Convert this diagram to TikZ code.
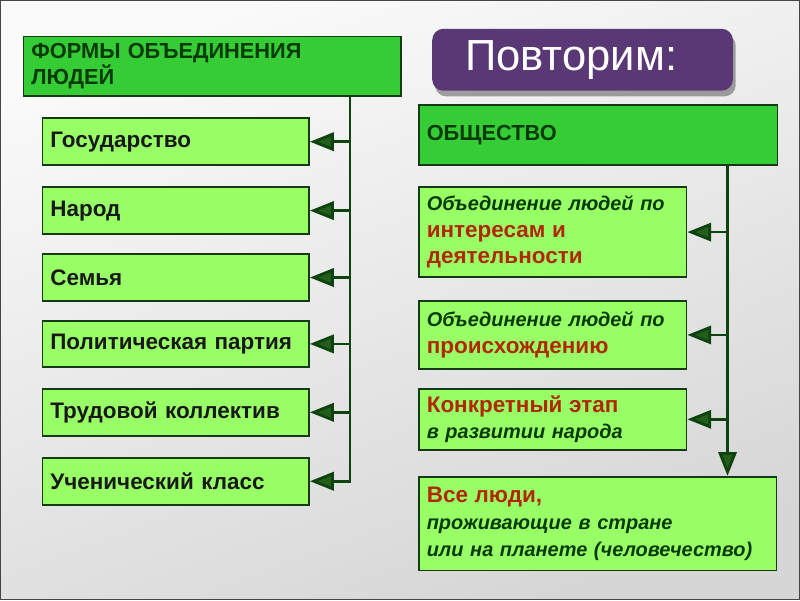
\documentclass[tikz,border=0pt]{standalone}
\usepackage{fontspec}
\setmainfont{Liberation Sans}
\usetikzlibrary{arrows.meta,shadows}
\definecolor{headgreen}{HTML}{35CC35}
\definecolor{lightgreen}{HTML}{99FF66}
\definecolor{boxline}{HTML}{163A16}
\definecolor{linkgreen}{HTML}{0E420E}
\definecolor{textgreen}{HTML}{063A06}
\definecolor{textred}{HTML}{B02800}
\definecolor{bannerpurple}{HTML}{5A3875}
\newcommand\redtext{\color{textred}\bfseries\upshape\fontsize{16}{19}\selectfont}

\begin{document}
\begin{tikzpicture}[
    x=0.025cm, y=-0.025cm,
    box/.style={rectangle, draw=boxline, line width=1.2pt, anchor=north west, align=left, inner xsep=0.2cm, inner ysep=0pt},
    heading/.style={box, fill=headgreen, text=textgreen, font=\bfseries\fontsize{15.5}{18.5}\selectfont},
    lbox/.style={box, fill=lightgreen, text=black!90, minimum width=6.675cm, text width=6.275cm, font=\bfseries\fontsize{16}{18.5}\selectfont},
    rbox/.style={box, fill=lightgreen, text=textgreen, font=\bfseries\itshape\fontsize{14.2}{19}\selectfont},
    banner/.style={rectangle, rounded corners=8pt, fill=bannerpurple, text=white, anchor=north west,
        minimum width=7.525cm, minimum height=1.55cm, inner xsep=0.825cm, text width=5.875cm, align=left,
        font=\fontsize{31}{31}\selectfont,
        drop shadow={shadow xshift=2pt, shadow yshift=-4pt, opacity=0.35, fill=black}},
    link/.style={draw=linkgreen, line width=2pt, -{Triangle[length=17pt, width=13pt, fill=linkgreen!85!lightgreen]}},
]
% background
\shade[top color=gray!4, bottom color=gray!32, shading angle=20] (0,0) rectangle (800,600);
\draw[gray!55!black, line width=0.8pt] (0,0) rectangle (800,600);
\useasboundingbox (0,0) rectangle (800,600);

% left column
\node[heading, minimum width=9.45cm, text width=9.05cm, minimum height=1.5cm] (forms) at (22,35) {ФОРМЫ ОБЪЕДИНЕНИЯ\\ЛЮДЕЙ};
\node[lbox, minimum height=1.175cm] (gos) at (41,117) {Государство};
\node[lbox, minimum height=1.175cm] (narod) at (41,186) {Народ};
\node[lbox, minimum height=1.175cm] (semya) at (41,253) {Семья};
\node[lbox, minimum height=1.15cm] (partiya) at (41,320) {Политическая партия};
\node[lbox, minimum height=1.175cm] (kollektiv) at (41,388) {Трудовой коллектив};
\node[lbox, minimum height=1.175cm] (klass) at (41,457) {Ученический класс};

\coordinate (lx) at (350,0);
\coordinate (ltop) at (forms.south -| lx);
\foreach \n in {gos,narod,semya,partiya,kollektiv,klass}
    \draw[link] (ltop) |- (\n.east);

% right column
\node[banner] (povtor) at (432,28) {Повторим:};
\node[heading, minimum width=8.975cm, text width=8.575cm, minimum height=1.5cm] (obsch) at (418,104) {ОБЩЕСТВО};
\node[rbox, minimum width=6.7cm, text width=6.3cm, minimum height=2.25cm] (interes) at (418,186)
    {Объединение людей по\\{\redtext интересам и\\деятельности}};
\node[rbox, minimum width=6.7cm, text width=6.3cm, minimum height=1.7cm] (proish) at (418,300)
    {Объединение людей по\\{\redtext происхождению}};
\node[rbox, minimum width=6.7cm, text width=6.3cm, minimum height=1.525cm] (etap) at (418,388)
    {{\redtext Конкретный этап}\\в развитии народа};
\node[rbox, minimum width=8.95cm, text width=8.55cm, minimum height=2.35cm] (vse) at (418,476)
    {{\redtext Все люди,}\\проживающие в стране\\или на планете (человечество)};

\coordinate (rx) at (728,0);
\coordinate (rtop) at (obsch.south -| rx);
\foreach \n in {interes,proish,etap}
    \draw[link] (rtop) |- (\n.east);
\draw[link] (rtop) -- (vse.north -| rx);
\end{tikzpicture}
\end{document}
